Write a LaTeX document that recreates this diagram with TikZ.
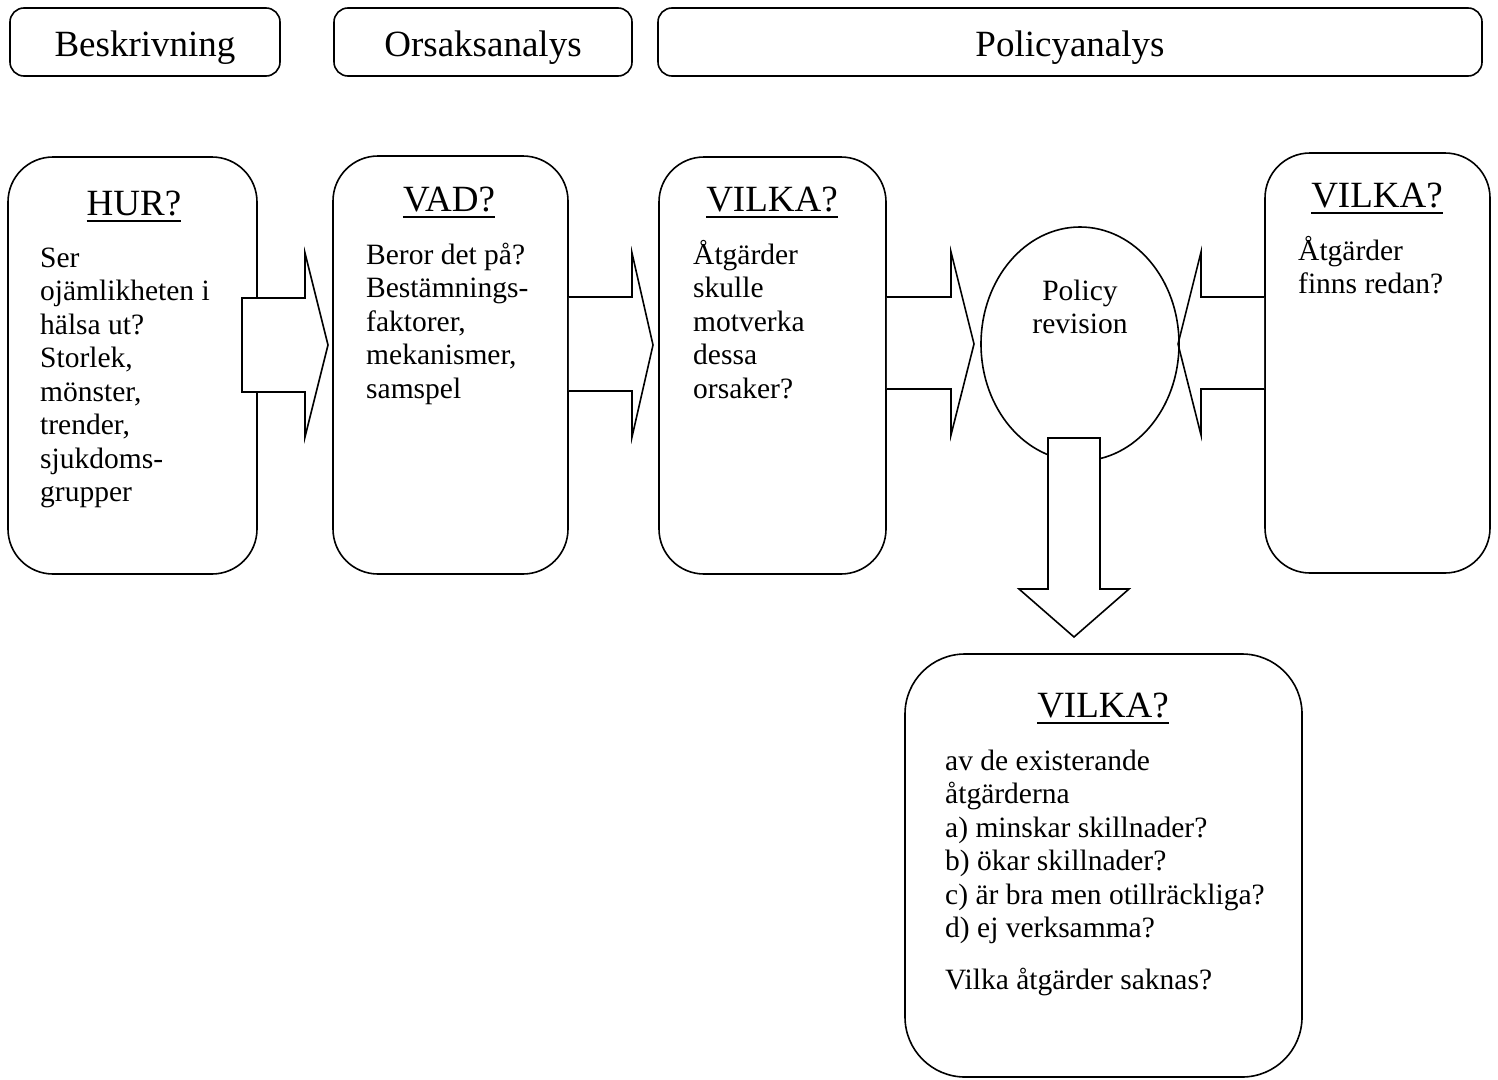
\documentclass[tikz,border=0pt]{standalone}
\usepackage{fontspec}
\setmainfont{Liberation Serif}
\usetikzlibrary{shapes.geometric}
\newcommand\bodytext[2]{\parbox[t]{#1pt}{\fontsize{29.5}{33.5}\selectfont\raggedright #2}}
\begin{document}
\begin{tikzpicture}[x=1pt,y=-1pt,
  box/.style={draw, line width=1.6pt, rounded corners=45pt, fill=white, inner sep=0pt},
  hdr/.style={draw, line width=1.6pt, rounded corners=14pt, inner sep=0pt},
  hdrtxt/.style={inner sep=0pt, anchor=base, font=\fontsize{37}{40}\selectfont},
  ttl/.style={inner sep=0pt, anchor=base, font=\fontsize{37}{40}\selectfont},
  bodynode/.style={inner sep=0pt, anchor=base west},
  arr/.style={draw, line width=1.6pt, fill=white, line join=miter},
  uline/.style={line width=1.8pt}]
\useasboundingbox (0,0) rectangle (1498,1079);

% header boxes
\node[hdr, minimum width=270pt, minimum height=68pt] (h1) at (145,42) {};
\node[hdr, minimum width=298pt, minimum height=68pt] (h2) at (483,42) {};
\node[hdr, minimum width=824pt, minimum height=68pt] (h3) at (1070,42) {};
\node[hdrtxt] (h1t) at (145,56) {Beskrivning};
\node[hdrtxt] (h2t) at (483,56) {Orsaksanalys};
\node[hdrtxt] (h3t) at (1070,56) {Policyanalys};

% box 1
\node[box, minimum width=249pt, minimum height=417pt] (b1) at (132.5,365.5) {};
% arrow 1
\draw[arr] (242,298) -- (305,298) -- (305,253) -- (328,345) -- (305,437) -- (305,392) -- (242,392) -- cycle;
% box 2
\node[box, minimum width=235pt, minimum height=418pt] (b2) at (450.5,365) {};
% arrow 2
\draw[arr] (b2.east |- 0,297) -- (632,297) -- (632,253) -- (653,345) -- (632,437) -- (632,391) -- (b2.east |- 0,391);
% box 3
\node[box, minimum width=227pt, minimum height=417pt] (b3) at (772.5,365.5) {};
% arrow 3
\draw[arr] (b3.east |- 0,297) -- (951,297) -- (951,252) -- (974,344) -- (951,435) -- (951,389) -- (b3.east |- 0,389);
% box 4
\node[box, minimum width=225pt, minimum height=420pt] (b4) at (1377.5,363) {};
% arrow 4
\draw[arr] (b4.west |- 0,297) -- (1201,297) -- (1201,252) -- (1178,344) -- (1201,435) -- (1201,389) -- (b4.west |- 0,389);
% ellipse
\node[draw, ellipse, line width=1.6pt, minimum width=198pt, minimum height=234pt, inner sep=0pt] (el) at (1080,344) {};
% arrow 5
\draw[arr] (1048,438) -- (1100,438) -- (1100,589) -- (1129,589) -- (1074,637) -- (1019,589) -- (1048,589) -- cycle;
% box 5
\node[box, rounded corners=60pt, minimum width=397pt, minimum height=423pt] (b5) at (1103.5,865.5) {};

% titles
\node[ttl] (t1) at (134,215) {HUR?};
\node[ttl] (t2) at (449,211) {VAD?};
\node[ttl] (t3) at (772,211) {VILKA?};
\node[ttl] (t4) at (1377,207) {VILKA?};
\node[ttl] (t5) at (1103,717) {VILKA?};
\foreach \t in {t1,t2,t3,t4,t5}
  \draw[uline] ([yshift=-6pt]\t.base west) -- ([yshift=-6pt]\t.base east);

% body texts
\node[bodynode] (bd1) at (40,267) {\bodytext{400}{Ser\\ojämlikheten i\\hälsa ut?\\Storlek,\\mönster,\\trender,\\sjukdoms-\\grupper}};
\node[bodynode] (bd2) at (366,264) {\bodytext{400}{Beror det på?\\Bestämnings-\\faktorer,\\mekanismer,\\samspel}};
\node[bodynode] (bd3) at (693,264) {\bodytext{400}{Åtgärder\\skulle\\motverka\\dessa\\orsaker?}};
\node[bodynode] (bd4) at (1298,260) {\bodytext{400}{Åtgärder\\finns redan?}};
\node[inner sep=0pt, anchor=base] (elt) at (1080,300) {\parbox[t]{180pt}{\centering\fontsize{29.5}{33}\selectfont Policy\\revision}};
\node[bodynode] (bd5) at (945,770) {\bodytext{400}{av de existerande\\åtgärderna\\a) minskar skillnader?\\b) ökar skillnader?\\c) är bra men otillräckliga?\\d) ej verksamma?\\[18pt]Vilka åtgärder saknas?}};
\end{tikzpicture}
\end{document}
